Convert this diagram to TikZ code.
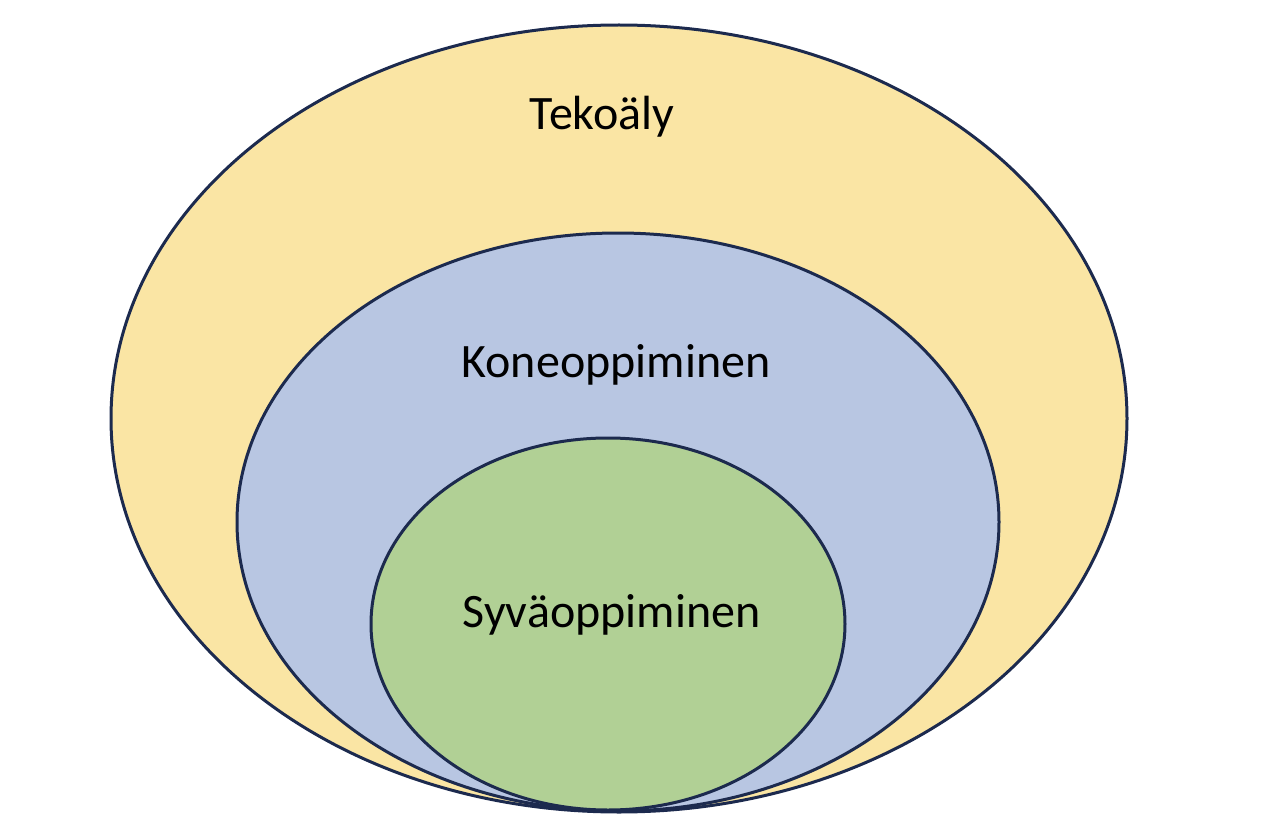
\documentclass[tikz,border=0pt]{standalone}
\usepackage{fontspec}
\setmainfont{Carlito}
\usetikzlibrary{shapes.geometric}
\definecolor{aiyellow}{HTML}{FAE5A4}
\definecolor{mlblue}{HTML}{B8C6E2}
\definecolor{dlgreen}{HTML}{B1D095}
\definecolor{rimnavy}{HTML}{1C2A4E}

\begin{document}
\begin{tikzpicture}[x=1pt, y=-1pt,
  field/.style={draw=rimnavy, line width=3pt, ellipse, inner sep=0pt},
  fieldname/.style={anchor=base, inner sep=0pt, font=\fontsize{48}{58}\selectfont}]
  \useasboundingbox (0,0) rectangle (1262,824);

  \node[field, fill=aiyellow, minimum width=1016pt, minimum height=787pt] at (619,418.5) (ai) {};
  \node[field, fill=mlblue, minimum width=762pt, minimum height=578pt] at (618,522) (ml) {};
  \node[field, fill=dlgreen, minimum width=474pt, minimum height=372pt] at (608,624) (dl) {};

  \node[fieldname] at (602,130) (ailabel) {Tekoäly};
  \node[fieldname] at (616,377) (mllabel) {Koneoppiminen};
  \node[fieldname] at (611.5,627) (dllabel) {Syväoppiminen};
\end{tikzpicture}
\end{document}
